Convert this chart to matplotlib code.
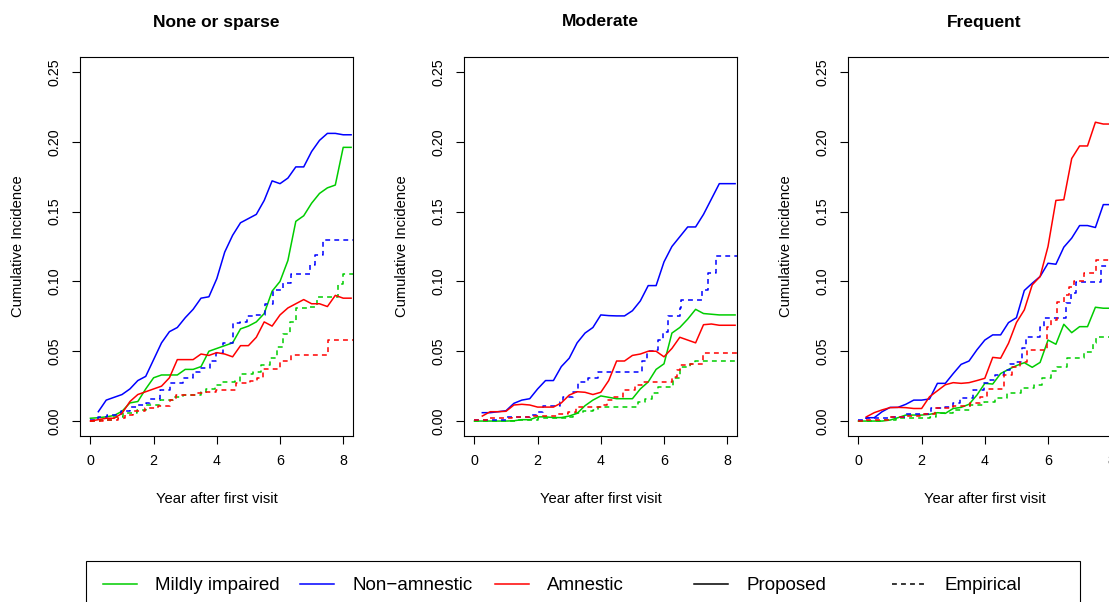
import numpy as np
import matplotlib.pyplot as plt
from matplotlib.lines import Line2D
from matplotlib.patches import Rectangle

plt.rcParams['font.family'] = ['Liberation Sans', 'DejaVu Sans']
plt.rcParams['lines.scale_dashes'] = False

W, H = 1109, 602

panel_titles = ["None or sparse", "Moderate", "Frequent"]
group_names = ["Mildly impaired", "Non\u2212amnestic", "Amnestic"]
group_colors = ["#00cd00", "#0000ff", "#ff0000"]

# proposed (model) curves on a quarterly grid
years = np.arange(0, 8.26, 0.25)
na = np.nan

sparse_mild = [0.002, 0.0024, 0.003, 0.004, 0.007, 0.013, 0.014, 0.023, 0.031, 0.033,
               0.033, 0.033, 0.037, 0.037, 0.039, 0.050, 0.052, 0.054, 0.056, 0.066,
               0.068, 0.071, 0.077, 0.093, 0.100, 0.115, 0.143, 0.147, 0.156, 0.163,
               0.167, 0.169, 0.196, 0.196]
sparse_nonam = [na, 0.0067, 0.015, 0.017, 0.019, 0.023, 0.029, 0.032, 0.044, 0.056,
                0.064, 0.067, 0.074, 0.080, 0.088, 0.089, 0.102, 0.121, 0.133, 0.142,
                0.145, 0.148, 0.158, 0.172, 0.170, 0.174, 0.182, 0.182, 0.193, 0.201,
                0.206, 0.206, 0.205, 0.205]
sparse_amn = [0.0, 0.001, 0.002, 0.002, 0.0055, 0.014, 0.019, 0.021, 0.023, 0.025,
              0.031, 0.044, 0.044, 0.044, 0.048, 0.047, 0.049, 0.048, 0.046, 0.054,
              0.054, 0.060, 0.071, 0.068, 0.076, 0.081, 0.084, 0.087, 0.084, 0.084,
              0.082, 0.090, 0.088, 0.088]

moder_mild = [0.0, 0.0, 0.0, 0.0, 0.0, 0.0002, 0.001, 0.001, 0.003, 0.003,
              0.0025, 0.0025, 0.0036, 0.0055, 0.011, 0.015, 0.018, 0.017, 0.016, 0.016,
              0.016, 0.023, 0.028, 0.037, 0.041, 0.063, 0.067, 0.073, 0.080, 0.077,
              0.0765, 0.076, 0.076, 0.076]
moder_nonam = [na, 0.006, 0.006, 0.0067, 0.0074, 0.0127, 0.015, 0.016, 0.023, 0.029,
               0.029, 0.039, 0.045, 0.056, 0.063, 0.067, 0.076, 0.0755, 0.0753, 0.0753,
               0.079, 0.086, 0.097, 0.097, 0.114, 0.125, 0.132, 0.139, 0.139, 0.148,
               0.159, 0.170, 0.170, 0.170]
moder_amn = [na, 0.0036, 0.0067, 0.0067, 0.007, 0.0115, 0.012, 0.0115, 0.010, 0.010,
             0.010, 0.013, 0.0186, 0.021, 0.0206, 0.019, 0.0206, 0.029, 0.043, 0.043,
             0.047, 0.048, 0.050, 0.050, 0.046, 0.052, 0.060, 0.058, 0.056, 0.069,
             0.0695, 0.0686, 0.0686, 0.0686]

freq_mild = [0.0, 0.0, 0.0, 0.0, 0.0007, 0.0024, 0.0043, 0.0043, 0.0043, 0.0048,
             0.006, 0.0055, 0.009, 0.0098, 0.012, 0.0186, 0.027, 0.0265, 0.034, 0.037,
             0.0397, 0.0418, 0.0385, 0.042, 0.058, 0.055, 0.0693, 0.0633, 0.0676, 0.0676,
             0.0815, 0.0808, 0.0808, 0.0808]
freq_nonam = [na, 0.0024, 0.0024, 0.0067, 0.0098, 0.0098, 0.012, 0.015, 0.015, 0.0158,
              0.027, 0.027, 0.034, 0.0406, 0.043, 0.051, 0.058, 0.0617, 0.0617, 0.0705,
              0.074, 0.0935, 0.0987, 0.1035, 0.113, 0.1123, 0.1245, 0.131, 0.140, 0.140,
              0.1386, 0.155, 0.155, 0.155]
freq_amn = [na, 0.003, 0.006, 0.008, 0.0096, 0.0098, 0.0096, 0.009, 0.009, 0.0174,
            0.0217, 0.026, 0.0275, 0.027, 0.0275, 0.029, 0.0306, 0.0456, 0.045, 0.0557,
            0.0705, 0.0796, 0.0975, 0.1035, 0.125, 0.158, 0.1585, 0.188, 0.197, 0.197,
            0.214, 0.2127, 0.2127, 0.2127]

# empirical step curves (jump times, value after jump)
sparse_mild_t = [0, 0.3, 0.72, 1.03, 1.46, 1.77, 2.2, 2.62, 2.93, 3.51, 3.67, 3.94, 4.15,
                 4.57, 4.73, 5.15, 5.41, 5.68, 5.89, 6.1, 6.31, 6.52, 6.84, 7.16, 7.85,
                 8.0, 8.3]
sparse_mild_e = [0, 0.001, 0.003, 0.0055, 0.008, 0.0115, 0.015, 0.0175, 0.0185, 0.021,
                 0.023, 0.026, 0.028, 0.029, 0.034, 0.035, 0.040, 0.045, 0.053, 0.062,
                 0.071, 0.081, 0.082, 0.089, 0.098, 0.105, 0.105]
sparse_nonam_t = [0, 0.24, 0.51, 0.98, 1.25, 1.46, 1.77, 1.88, 2.2, 2.51, 2.93, 3.25, 3.46,
                  3.78, 3.99, 4.2, 4.52, 4.73, 4.94, 5.2, 5.52, 5.78, 6.1, 6.36, 6.94,
                  7.1, 7.37, 8.3]
sparse_nonam_e = [0.001, 0.003, 0.004, 0.007, 0.010, 0.0115, 0.013, 0.016, 0.022, 0.027,
                  0.031, 0.035, 0.038, 0.043, 0.049, 0.056, 0.070, 0.071, 0.075, 0.076,
                  0.084, 0.094, 0.099, 0.105, 0.112, 0.119, 0.130, 0.130]
sparse_amn_t = [0, 0.4, 0.88, 1.09, 1.35, 1.72, 2.14, 2.51, 2.72, 3.36, 3.67, 3.99, 4.62,
                5.05, 5.26, 5.47, 5.99, 6.36, 7.52, 8.3]
sparse_amn_e = [0, 0.001, 0.002, 0.004, 0.007, 0.009, 0.011, 0.015, 0.019, 0.020, 0.021,
                0.022, 0.027, 0.029, 0.031, 0.037, 0.043, 0.047, 0.058, 0.058]

moder_mild_t = [0, 1.33, 2.02, 2.92, 3.13, 3.45, 3.76, 3.92, 5.18, 5.41, 5.61, 5.82, 6.13,
                6.29, 6.5, 6.82, 6.98, 8.3]
moder_mild_e = [0, 0.001, 0.002, 0.003, 0.0055, 0.0074, 0.008, 0.0098, 0.0139, 0.016,
                0.0198, 0.0246, 0.0246, 0.031, 0.039, 0.041, 0.043, 0.043]
moder_nonam_t = [0, 1.02, 1.76, 1.97, 2.18, 2.71, 2.81, 3.13, 3.29, 3.6, 3.92, 5.29, 5.45,
                 5.71, 5.82, 5.97, 6.13, 6.5, 6.55, 7.19, 7.4, 7.66, 8.3]
moder_nonam_e = [0.001, 0.003, 0.004, 0.0067, 0.011, 0.014, 0.0175, 0.021, 0.028, 0.031,
                 0.035, 0.043, 0.050, 0.051, 0.058, 0.064, 0.075, 0.081, 0.087, 0.094,
                 0.106, 0.118, 0.118]
moder_amn_t = [0, 0.39, 1.18, 1.76, 2.6, 2.97, 3.23, 4.08, 4.18, 4.39, 4.71, 5.08, 5.29,
               6.24, 6.4, 6.5, 6.82, 7.24, 8.3]
moder_amn_e = [0.001, 0.002, 0.003, 0.0038, 0.0048, 0.0067, 0.0098, 0.0115, 0.015, 0.0175,
               0.022, 0.026, 0.028, 0.0318, 0.0366, 0.040, 0.041, 0.0485, 0.0485]

freq_mild_t = [0, 0.77, 1.2, 2.26, 2.47, 3.0, 3.53, 3.96, 4.33, 4.7, 5.13, 5.55, 5.82,
               6.08, 6.29, 6.61, 7.14, 7.41, 7.52, 8.3]
freq_mild_e = [0, 0.0007, 0.0024, 0.003, 0.0055, 0.0079, 0.0115, 0.0139, 0.0162, 0.0198,
               0.0234, 0.0258, 0.0306, 0.0361, 0.039, 0.045, 0.0497, 0.0557, 0.0605, 0.0605]
freq_nonam_t = [0, 0.24, 0.99, 1.52, 2.31, 2.74, 3.0, 3.22, 3.64, 3.96, 4.17, 4.33, 4.6,
                4.81, 4.97, 5.18, 5.29, 5.76, 5.87, 6.56, 6.72, 6.88, 7.68, 8.3]
freq_nonam_e = [0.0007, 0.0024, 0.003, 0.005, 0.009, 0.0098, 0.0127, 0.0163, 0.0222, 0.027,
                0.0294, 0.033, 0.0366, 0.0406, 0.0425, 0.052, 0.060, 0.0676, 0.074, 0.0843,
                0.0915, 0.0999, 0.111, 0.111]
freq_amn_t = [0, 0.24, 0.99, 1.52, 1.94, 2.42, 3.0, 3.53, 3.85, 4.06, 4.6, 4.86, 5.12,
              5.34, 5.98, 6.08, 6.3, 6.51, 6.67, 6.83, 7.14, 7.52, 8.3]
freq_amn_e = [0, 0.001, 0.003, 0.0038, 0.005, 0.009, 0.0107, 0.0127, 0.0175, 0.0227, 0.033,
              0.039, 0.0425, 0.051, 0.0676, 0.0724, 0.0856, 0.0903, 0.0963, 0.1004, 0.1059,
              0.115, 0.115]

proposed = [[sparse_mild, sparse_nonam, sparse_amn],
            [moder_mild, moder_nonam, moder_amn],
            [freq_mild, freq_nonam, freq_amn]]
empirical = [[(sparse_mild_t, sparse_mild_e), (sparse_nonam_t, sparse_nonam_e), (sparse_amn_t, sparse_amn_e)],
             [(moder_mild_t, moder_mild_e), (moder_nonam_t, moder_nonam_e), (moder_amn_t, moder_amn_e)],
             [(freq_mild_t, freq_mild_e), (freq_nonam_t, freq_nonam_e), (freq_amn_t, freq_amn_e)]]

fig = plt.figure(figsize=(W / 100, H / 100), dpi=100)

panel_left = [80, 464, 848]   # pixel position of each plot box
box_top, box_bottom, box_w = 57, 436, 273
box_h = box_bottom - box_top
dash = (3.5, 3)

for i in range(3):
    ax = fig.add_axes([panel_left[i] / W, (H - box_bottom) / H, box_w / W, box_h / H])
    for g in range(3):
        ax.plot(years, proposed[i][g], color=group_colors[g], lw=1.1)
        t, e = empirical[i][g]
        ax.step(t, e, where='post', color=group_colors[g], lw=1.1, linestyle=(0, dash))

    ax.set_xlim(-0.33, 8.31)
    ax.set_ylim(-0.0107, 0.2607)
    ax.set_xticks([0, 2, 4, 6, 8])
    ax.set_yticks([0, 0.05, 0.10, 0.15, 0.20, 0.25])
    ax.set_yticklabels(["0.00", "0.05", "0.10", "0.15", "0.20", "0.25"])
    ax.tick_params(direction='out', length=5.5, width=0.8, labelsize=10.3)
    ax.tick_params(axis='x', pad=7.5)
    ax.tick_params(axis='y', pad=7.5)
    plt.setp(ax.get_yticklabels(), rotation=90, va='center')
    for s in ax.spines.values():
        s.set_linewidth(0.8)

    ax.text(0.5, 1 + (box_top - 22) / box_h, panel_titles[i], transform=ax.transAxes,
            ha='center', va='center', fontsize=12.5, fontweight='bold')
    ax.set_xlabel("Year after first visit", fontsize=10.6)
    ax.xaxis.set_label_coords(0.5, -(499 - box_bottom) / box_h)
    ax.xaxis.label.set_va('center')
    ax.set_ylabel("Cumulative Incidence", fontsize=10.6)
    ax.yaxis.set_label_coords(-62 / box_w, 0.5)
    ax.yaxis.label.set_va('center')

# legend box along the bottom, drawn by hand like R's horizontal legend
def px(x, y):
    return x / W, (H - y) / H

lx, ly = px(86, 561)
fig.patches.append(Rectangle((lx, ly - 0.2), (1080 - 86) / W, 0.2, transform=fig.transFigure,
                             fill=False, edgecolor='black', lw=0.8))
legend_items = [(group_names[0], group_colors[0], '-', 103),
                (group_names[1], group_colors[1], '-', 300),
                (group_names[2], group_colors[2], '-', 495),
                ("Proposed", 'black', '-', 694),
                ("Empirical", 'black', (0, dash), 892)]
for label, col, ls, x0 in legend_items:
    a, yy = px(x0, 584)
    b, _ = px(x0 + 34, 584)
    fig.lines.append(Line2D([a, b], [yy, yy], transform=fig.transFigure, color=col, lw=1.1, linestyle=ls))
    tx, ty = px(x0 + 52, 585)
    fig.text(tx, ty, label, ha='left', va='center', fontsize=13.5)

fig.savefig("out.png", dpi=100)
